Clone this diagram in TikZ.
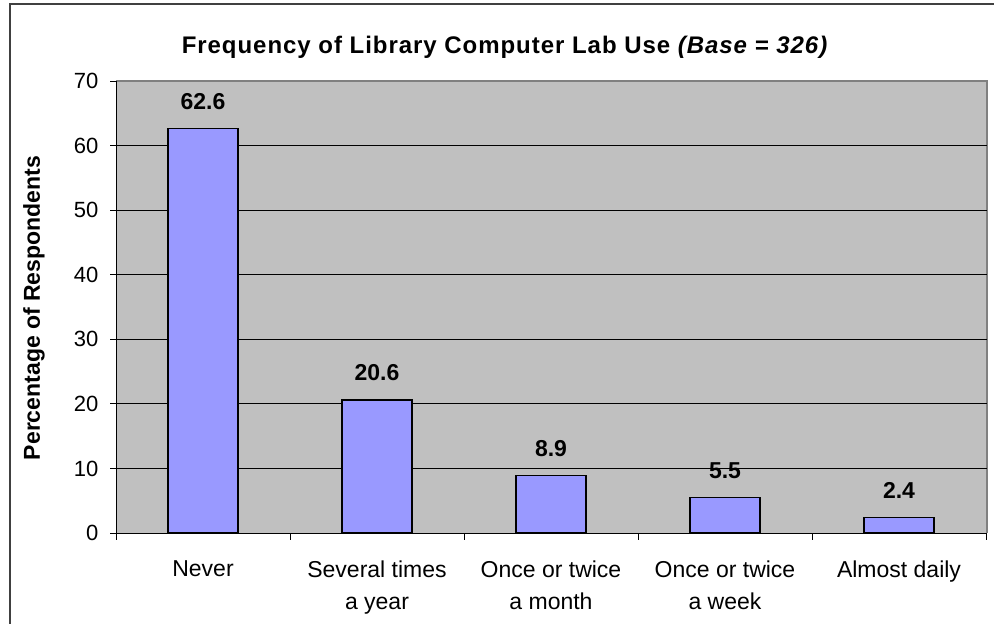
\documentclass[tikz,border=0pt]{standalone}
\usepackage{fontspec}
\setmainfont{Liberation Sans}
\usetikzlibrary{positioning}
\definecolor{barblue}{HTML}{9999FF}
\definecolor{plotgray}{HTML}{C0C0C0}
\definecolor{framegray}{HTML}{808080}

\begin{document}
\begin{tikzpicture}[x=1pt,y=-1pt,
    bar/.style={draw=black,line width=1.4pt,fill=barblue},
    val/.style={font=\fontsize{23}{26}\selectfont\bfseries},
    cat/.style={font=\fontsize{23}{32}\selectfont,align=center,anchor=north},
    ylab/.style={font=\fontsize{22}{24}\selectfont,anchor=east}]
    \useasboundingbox (0,0) rectangle (994,624);
    \draw[line width=2pt,draw=black!75] (10,4) rectangle (1010,640);
    % plot area
    \fill[plotgray] (116,81) rectangle (987,533);
    \draw[framegray,line width=1.2pt] (116,81) -- (987,81) -- (987,533);
    \foreach \v in {0,10,...,60} {
        \draw[black,line width=0.8pt] (116,{533-\v*6.457}) -- (987,{533-\v*6.457});
    }
    \foreach \v in {0,10,...,70} {
        \draw[black,line width=0.8pt] (110,{533-\v*6.457}) -- (116,{533-\v*6.457});
        \node[ylab] (y\v) at (102,{533-\v*6.457}) {\v};
    }
    \draw[black,line width=0.8pt] (116,81) -- (116,533);
    \foreach \k in {0,...,5} {
        \draw[black,line width=0.8pt] (116+174*\k,533) -- (116+174*\k,540);
    }
    % bars
    \foreach \k/\v/\n in {0/62.6/never,1/20.6/several,2/8.9/month,3/5.5/week,4/2.4/daily} {
        \draw[bar] (168+174*\k,533) rectangle (238+174*\k,{533-\v*6.457});
        \node[val] (v\n) at (203+174*\k,{533-\v*6.457-27}) {\v};
    }
    % categories
    \node[cat] (never) at (203,557) {Never};
    \node[cat] (several) at (377,557) {Several times\\a year};
    \node[cat] (month) at (551,557) {Once or twice\\a month};
    \node[cat] (week) at (725,557) {Once or twice\\a week};
    \node[cat] (daily) at (899,557) {Almost daily};
    % titles
    \node[font=\fontsize{24}{26}\selectfont\bfseries\addfontfeature{LetterSpace=4}] (title) at (505,47)
        {Frequency of Library Computer Lab Use \textit{(Base = 326)}};
    \node[font=\fontsize{23}{26}\selectfont\bfseries,rotate=90] (ytitle) at (34,308)
        {Percentage of Respondents};
\end{tikzpicture}
\end{document}
